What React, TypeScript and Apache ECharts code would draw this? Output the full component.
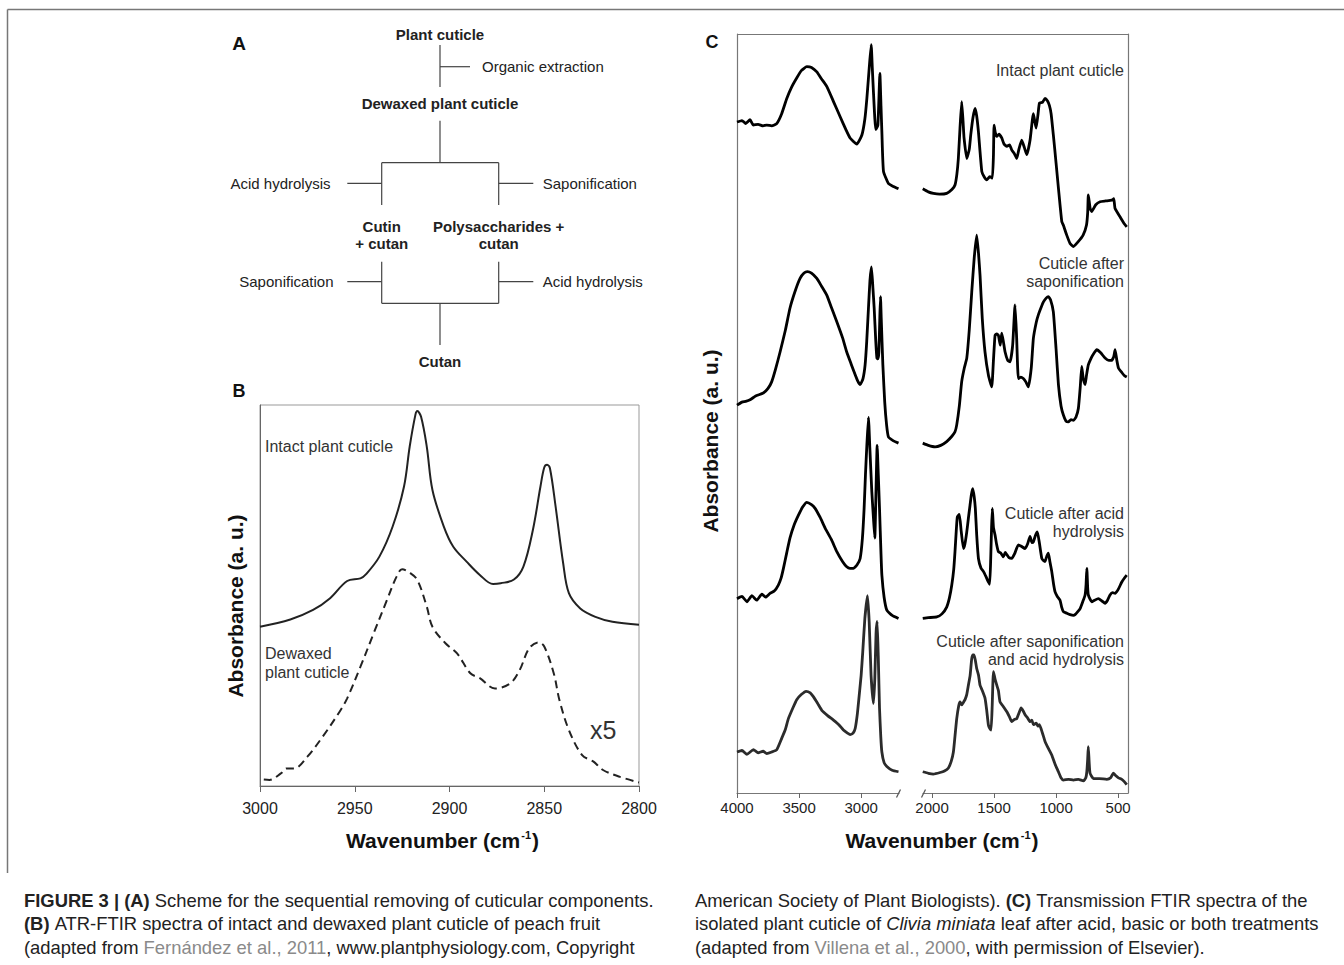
import React, { useEffect, useRef } from 'react';
import * as echarts from 'echarts';

const FONT = '"Liberation Sans", Arial, Helvetica, sans-serif';

// ---------- Panel B data (wavenumber, absorbance a.u.) ----------
const bTicks = [3000, 2950, 2900, 2850, 2800];
const bIntact = [
  [3000, 41.8], [2984, 43.7], [2972, 46.2], [2963, 49.3], [2954, 53.8], [2947, 54.5], [2944, 55.6],
  [2937, 60.2], [2930, 68.1], [2924, 78.6], [2921, 89.1], [2918, 97.4], [2917, 98.4], [2915, 96.9],
  [2912, 89.1], [2909, 77.7], [2903, 68.1], [2898, 62.8], [2891, 58.9], [2884, 55.4], [2877, 53.0],
  [2873, 53.2], [2866, 54.2], [2861, 57.6], [2856, 67.2], [2852, 78.6], [2850, 83.6], [2848.5, 84.3],
  [2847, 83.4], [2844, 73.3], [2840, 58.4], [2837, 50.6], [2831, 46.6], [2823, 44.4], [2814, 43.1],
  [2800, 42.3],
];
const bDewaxed = [
  [2998, 1.7], [2995, 1.6], [2989, 3.3], [2986, 4.6], [2982, 4.6], [2975, 7.7], [2967, 12.9],
  [2958, 19.5], [2954, 23.0], [2947, 31.3], [2940, 40.1], [2933, 48.8], [2928, 54.9], [2925, 56.9],
  [2921, 56.0], [2917, 54.1], [2912, 47.1], [2909, 41.8], [2902, 37.4], [2896, 34.8], [2889, 29.6],
  [2884, 28.3], [2876, 25.6], [2868, 26.9], [2863, 30.4], [2858, 36.1], [2853, 37.7], [2850, 36.6],
  [2845, 29.6], [2842, 22.6], [2837, 14.7], [2830, 8.1], [2824, 6.4], [2819, 4.2], [2810, 2.4],
  [2800, 0.9],
];

// ---------- Panel C data (wavenumber, absorbance a.u., stacked offsets as drawn) ----------
const cHighTicks = [4000, 3500, 3000];
const cLowTicks = [2000, 1500, 1000, 500];

const cIntactHigh = [
  [4000, 88.4], [3960, 88.6], [3930, 88.2], [3895, 88.7], [3868, 88.0], [3830, 88.1], [3790, 87.9],
  [3761, 88.0], [3720, 87.9], [3680, 88.2], [3640, 89.5], [3599, 91.5], [3560, 93.0], [3519, 94.2],
  [3480, 95.2], [3438, 95.7], [3400, 95.6], [3357, 95.0], [3320, 94.1], [3277, 93.1], [3220, 91.0],
  [3169, 89.1], [3120, 87.3], [3089, 86.3], [3035, 85.5], [2994, 86.7], [2970, 88.8], [2954, 91.5],
  [2935, 95.5], [2919, 98.6], [2910, 95.5], [2901, 92.4], [2882, 87.4], [2865, 88.0], [2849, 94.8],
  [2840, 90.5], [2833, 87.1], [2820, 81.9], [2780, 80.3], [2740, 79.9], [2699, 79.6],
];
const cIntactLow = [
  [2075, 79.6], [2030, 79.2], [1989, 79.0], [1940, 78.9], [1882, 79.0], [1840, 79.5], [1815, 80.1],
  [1800, 81.5], [1788, 83.6], [1775, 87.5], [1761, 91.1], [1750, 88.5], [1742, 86.3], [1720, 83.6],
  [1700, 84.8], [1688, 86.7], [1670, 89.0], [1653, 90.2], [1640, 89.2], [1626, 87.1], [1599, 81.9],
  [1580, 81.2], [1559, 80.8], [1535, 81.2], [1514, 81.0], [1505, 84.0], [1500, 88.0], [1490, 87.0],
  [1478, 86.5], [1460, 86.8], [1438, 86.3], [1420, 85.5], [1397, 85.2], [1375, 85.4], [1357, 84.7],
  [1335, 84.2], [1317, 83.6], [1300, 84.8], [1277, 86.0], [1255, 85.0], [1236, 84.1], [1210, 86.0],
  [1183, 89.5], [1161, 87.6], [1145, 89.5], [1134, 90.9], [1110, 91.0], [1089, 91.5], [1070, 91.2],
  [1054, 90.6], [1040, 89.5], [1022, 86.7], [1000, 83.0], [981, 79.7], [954, 75.3], [941, 74.8],
  [914, 73.5], [887, 72.4], [860, 72.0], [823, 72.6], [782, 73.5], [755, 74.8], [745, 76.5],
  [740, 78.8], [725, 77.0], [713, 76.6], [680, 77.5], [645, 77.9], [600, 78.0], [551, 78.1],
  [535, 78.3], [524, 77.0], [480, 75.8], [450, 75.0], [430, 74.6],
];

const cSapHigh = [
  [4000, 51.1], [3960, 51.5], [3930, 51.6], [3895, 51.8], [3850, 52.3], [3788, 52.7], [3750, 53.3],
  [3720, 54.2], [3690, 55.8], [3653, 58.1], [3610, 61.0], [3573, 63.9], [3530, 66.2], [3492, 67.8],
  [3460, 68.5], [3433, 68.7], [3400, 68.5], [3357, 67.8], [3320, 66.8], [3277, 65.6], [3240, 64.0],
  [3196, 62.1], [3150, 60.0], [3116, 58.1], [3080, 56.5], [3048, 55.1], [3025, 54.2], [3008, 53.8],
  [2985, 54.6], [2968, 56.4], [2955, 59.5], [2941, 63.9], [2929, 67.5], [2917, 69.3], [2905, 66.5],
  [2895, 63.9], [2882, 59.5], [2873, 57.3], [2865, 57.2], [2857, 58.1], [2849, 63.0], [2844, 65.4],
  [2838, 62.5], [2825, 56.4], [2810, 51.5], [2795, 48.5], [2780, 46.9], [2740, 46.4], [2699, 46.1],
];
const cSapLow = [
  [2075, 46.1], [2030, 45.8], [1976, 45.6], [1930, 45.8], [1882, 46.3], [1840, 47.0], [1815, 47.6],
  [1801, 48.5], [1780, 51.0], [1761, 54.2], [1740, 56.0], [1720, 57.3], [1700, 61.0], [1680, 66.0],
  [1660, 70.5], [1640, 73.5], [1625, 71.0], [1613, 68.2], [1595, 62.5], [1573, 58.1], [1545, 55.0],
  [1519, 53.5], [1505, 57.0], [1492, 60.3], [1478, 60.5], [1465, 60.3], [1450, 59.0], [1438, 60.6],
  [1425, 59.5], [1411, 58.1], [1390, 57.0], [1371, 56.8], [1350, 59.0], [1331, 64.3], [1318, 60.0],
  [1304, 54.6], [1285, 54.8], [1264, 54.6], [1245, 54.2], [1223, 53.5], [1200, 56.0], [1183, 59.9],
  [1160, 62.0], [1143, 63.0], [1120, 64.0], [1102, 64.7], [1080, 65.2], [1062, 65.4], [1045, 65.0],
  [1022, 63.4], [1000, 58.5], [981, 53.8], [960, 51.0], [941, 49.8], [920, 49.0], [901, 48.9],
  [880, 49.2], [860, 49.1], [840, 49.5], [820, 50.7], [805, 53.5], [793, 56.2], [780, 54.5],
  [766, 53.8], [755, 55.0], [740, 56.4], [720, 57.2], [700, 57.8], [672, 58.4], [640, 58.0],
  [605, 57.3], [575, 57.0], [551, 57.0], [535, 57.5], [524, 58.4], [510, 57.0], [497, 56.0],
  [470, 55.4], [450, 55.0], [430, 54.8],
];

const cAcidHigh = [
  [4000, 25.6], [3960, 25.9], [3920, 25.2], [3880, 26.0], [3841, 25.4], [3800, 26.2], [3770, 25.8],
  [3734, 26.3], [3700, 26.6], [3667, 27.4], [3645, 28.3], [3626, 29.6], [3600, 31.6], [3573, 33.6],
  [3540, 35.3], [3505, 36.6], [3470, 37.7], [3438, 38.3], [3400, 38.0], [3371, 37.5], [3330, 36.3],
  [3290, 34.9], [3240, 33.4], [3196, 31.8], [3150, 30.5], [3116, 29.8], [3090, 29.6], [3062, 29.6],
  [3035, 30.0], [3008, 30.9], [2990, 33.5], [2976, 37.5], [2965, 42.0], [2954, 45.8], [2941, 49.5],
  [2930, 45.5], [2914, 39.7], [2900, 36.0], [2890, 33.6], [2880, 40.0], [2871, 45.8], [2862, 42.0],
  [2852, 37.5], [2840, 31.5], [2833, 28.7], [2815, 25.8], [2793, 24.1], [2750, 23.4], [2699, 23.0],
];
const cAcidLow = [
  [2075, 23.0], [2030, 23.1], [1962, 23.2], [1920, 23.6], [1882, 24.5], [1860, 25.7], [1841, 27.4],
  [1825, 29.5], [1815, 31.8], [1805, 34.5], [1796, 36.4], [1780, 36.7], [1765, 34.5], [1747, 32.2],
  [1735, 32.8], [1720, 34.4], [1707, 36.2], [1694, 37.9], [1683, 39.3], [1672, 40.1], [1660, 39.0],
  [1651, 37.5], [1640, 34.0], [1626, 30.9], [1605, 29.6], [1586, 29.2], [1565, 28.5], [1546, 27.8],
  [1535, 27.5], [1527, 30.9], [1520, 35.0], [1514, 37.5], [1505, 35.0], [1492, 34.0], [1480, 32.8],
  [1465, 31.8], [1445, 31.6], [1425, 31.1], [1410, 31.7], [1397, 31.4], [1380, 31.0], [1357, 30.9],
  [1335, 31.5], [1304, 32.7], [1280, 32.5], [1250, 32.2], [1230, 32.8], [1210, 33.8], [1195, 33.0],
  [1183, 33.1], [1165, 34.0], [1151, 34.4], [1135, 33.0], [1115, 30.9], [1100, 30.6], [1089, 30.5],
  [1075, 31.2], [1062, 31.6], [1050, 30.5], [1035, 29.2], [1020, 27.5], [1008, 26.5], [990, 25.9],
  [968, 25.4], [955, 24.5], [941, 23.9], [915, 23.7], [887, 23.5], [860, 23.4], [847, 23.5],
  [825, 23.9], [806, 24.3], [785, 25.2], [766, 26.1], [758, 27.5], [752, 29.6], [745, 27.0],
  [740, 26.1], [725, 25.5], [713, 25.2], [690, 25.4], [659, 25.6], [630, 25.3], [605, 25.0],
  [585, 25.4], [565, 26.1], [545, 26.4], [524, 26.3], [500, 26.8], [470, 27.8], [450, 28.3],
  [430, 28.7],
];

const cBothHigh = [
  [4000, 5.4], [3960, 5.6], [3920, 5.1], [3868, 5.7], [3830, 5.3], [3790, 5.5], [3761, 5.2],
  [3720, 5.4], [3680, 5.7], [3640, 7.2], [3610, 8.4], [3586, 9.8], [3550, 11.2], [3519, 12.3],
  [3480, 13.0], [3444, 13.4], [3410, 13.2], [3385, 12.7], [3350, 11.8], [3317, 10.9], [3270, 10.2],
  [3223, 9.6], [3180, 9.0], [3143, 8.3], [3110, 7.9], [3089, 7.7], [3065, 7.9], [3048, 8.5],
  [3030, 10.5], [3013, 13.3], [3000, 15.5], [2987, 18.6], [2970, 23.0], [2949, 26.0], [2935, 22.5],
  [2920, 15.5], [2901, 11.8], [2890, 15.0], [2880, 21.0], [2871, 22.6], [2862, 18.0], [2852, 11.2],
  [2842, 7.5], [2833, 5.4], [2815, 4.0], [2793, 3.5], [2750, 3.0], [2699, 2.8],
];
const cBothLow = [
  [2075, 2.8], [2030, 2.6], [1990, 2.5], [1935, 2.7], [1900, 2.9], [1868, 3.3], [1845, 4.2],
  [1828, 5.4], [1815, 7.5], [1801, 9.8], [1785, 11.5], [1774, 12.0], [1761, 11.6], [1745, 12.0],
  [1734, 12.3], [1720, 13.0], [1707, 14.2], [1693, 15.5], [1680, 17.7], [1670, 18.2], [1661, 18.2],
  [1650, 17.4], [1640, 16.4], [1625, 15.5], [1613, 14.2], [1595, 13.5], [1573, 12.5], [1560, 11.0],
  [1546, 9.0], [1535, 8.5], [1524, 8.3], [1515, 11.5], [1505, 16.0], [1492, 15.0], [1478, 14.2],
  [1465, 13.5], [1452, 12.0], [1430, 11.5], [1397, 10.7], [1375, 10.0], [1357, 9.4], [1335, 9.7],
  [1317, 9.8], [1300, 10.5], [1282, 11.2], [1265, 10.8], [1250, 10.3], [1230, 9.9], [1210, 9.4],
  [1195, 9.6], [1183, 9.0], [1160, 9.2], [1145, 8.8], [1134, 9.0], [1110, 7.9], [1089, 6.8],
  [1060, 5.8], [1035, 5.0], [1008, 3.8], [981, 2.8], [960, 2.0], [941, 1.7], [900, 1.8],
  [860, 1.7], [820, 1.8], [780, 1.6], [760, 2.0], [752, 2.8], [745, 4.5], [740, 6.1],
  [733, 4.0], [726, 2.6], [699, 1.9], [650, 1.9], [591, 1.8], [560, 2.0], [538, 2.6],
  [520, 2.3], [497, 2.0], [470, 1.8], [450, 1.5], [430, 1.1],
];

// ---------- Caption ----------
const captionLeft = [
  '{b|FIGURE 3 | (A) }{n|Scheme for the sequential removing of cuticular components.}',
  '{b|(B) }{n|ATR-FTIR spectra of intact and dewaxed plant cuticle of peach fruit}',
  '{n|(adapted from }{g|Fernández et al., 2011}{n|, www.plantphysiology.com, Copyright}',
];
const captionRight = [
  '{n|American Society of Plant Biologists). }{b|(C) }{n|Transmission FTIR spectra of the}',
  '{n|isolated plant cuticle of }{i|Clivia miniata}{n| leaf after acid, basic or both treatments}',
  '{n|(adapted from }{g|Villena et al., 2000}{n|, with permission of Elsevier).}',
];

type TOpts = {
  size?: number; weight?: string; fill?: string; align?: string; valign?: string; rotation?: number; rich?: any;
};

function txt(text: string, x: number, y: number, o: TOpts = {}) {
  const align = o.align || 'left';
  const valign = o.valign || 'middle';
  return {
    type: 'text',
    x,
    y,
    rotation: o.rotation || 0,
    silent: true,
    z: 10,
    style: {
      text,
      fontFamily: FONT,
      fontSize: o.size || 15,
      fontWeight: o.weight || 'normal',
      fill: o.fill || '#222',
      align,
      verticalAlign: valign,
      textAlign: align,
      textVerticalAlign: valign,
      rich: o.rich,
    },
  };
}

function ln(x1: number, y1: number, x2: number, y2: number, stroke = '#444', w = 1.2) {
  return { type: 'line', silent: true, z: 10, shape: { x1, y1, x2, y2 }, style: { stroke, lineWidth: w } };
}

function captionRich(size: number) {
  const base = { fontFamily: FONT, fontSize: size, fill: '#222', color: '#222' };
  return {
    n: { ...base },
    b: { ...base, fontWeight: 'bold' },
    g: { ...base, fill: '#8a8a8a', color: '#8a8a8a' },
    i: { ...base, fontStyle: 'italic' },
  };
}

function axisTitleRich(size: number) {
  return {
    a: { fontFamily: FONT, fontSize: size, fontWeight: 'bold', fill: '#111', color: '#111' },
    s: { fontFamily: FONT, fontSize: 11, fontWeight: 'bold', fill: '#111', color: '#111', verticalAlign: 'top', padding: [0, 1, 0, 1] },
  };
}

const plain = (v: number) => String(Math.round(v));

export default function App() {
  const ref = useRef<HTMLDivElement>(null);

  useEffect(() => {
    if (!ref.current) return;
    const chart = echarts.init(ref.current, undefined, { renderer: 'svg' });

    const graphic: any[] = [];
    // Figure frame
    graphic.push(ln(7.5, 9.5, 1344, 9.5, '#777', 1.5));
    graphic.push(ln(7.5, 9.5, 7.5, 873, '#777', 1.5));

    // Panel labels
    graphic.push(txt('A', 239, 43, { size: 19, weight: 'bold', align: 'center', fill: '#111' }));
    graphic.push(txt('B', 239, 391, { size: 18, weight: 'bold', align: 'center', fill: '#111' }));
    graphic.push(txt('C', 712, 42, { size: 18, weight: 'bold', align: 'center', fill: '#111' }));

    // Panel A scheme
    const bold = { size: 15, weight: 'bold', align: 'center', fill: '#222' };
    graphic.push(txt('Plant cuticle', 440, 34, bold));
    graphic.push(ln(440, 45, 440, 87));
    graphic.push(ln(440, 66.7, 470, 66.7));
    graphic.push(txt('Organic extraction', 482, 66.7, { size: 15 }));
    graphic.push(txt('Dewaxed plant cuticle', 440, 103.5, bold));
    graphic.push(ln(440, 120.7, 440, 162.7));
    graphic.push(ln(381.7, 162.7, 498.7, 162.7));
    graphic.push(ln(381.7, 162.7, 381.7, 205));
    graphic.push(ln(498.7, 162.7, 498.7, 205));
    graphic.push(ln(347.3, 183.3, 381.7, 183.3));
    graphic.push(ln(498.7, 183.3, 533.3, 183.3));
    graphic.push(txt('Acid hydrolysis', 330.5, 183.3, { size: 15, align: 'right' }));
    graphic.push(txt('Saponification', 542.7, 183.3, { size: 15 }));
    graphic.push(txt('Cutin', 381.7, 226.7, bold));
    graphic.push(txt('+ cutan', 381.7, 243.3, bold));
    graphic.push(txt('Polysaccharides +', 498.7, 226.7, bold));
    graphic.push(txt('cutan', 498.7, 243.3, bold));
    graphic.push(ln(381.7, 261.7, 381.7, 303.3));
    graphic.push(ln(498.7, 261.7, 498.7, 303.3));
    graphic.push(ln(381.7, 303.3, 498.7, 303.3));
    graphic.push(ln(347.3, 281.7, 381.7, 281.7));
    graphic.push(ln(498.7, 281.7, 533.3, 281.7));
    graphic.push(txt('Saponification', 333.5, 281.7, { size: 15, align: 'right' }));
    graphic.push(txt('Acid hydrolysis', 542.7, 281.7, { size: 15 }));
    graphic.push(ln(440, 303.3, 440, 345));
    graphic.push(txt('Cutan', 440, 361, bold));

    // Panel B annotations
    graphic.push(txt('Intact plant cuticle', 265, 446, { size: 16, fill: '#333' }));
    graphic.push(txt('Dewaxed', 265, 653, { size: 16, fill: '#333' }));
    graphic.push(txt('plant cuticle', 265, 672, { size: 16, fill: '#333' }));
    graphic.push(txt('x5', 590, 730, { size: 25, fill: '#333' }));
    graphic.push(txt('{a|Wavenumber (cm}{s|-1}{a|)}', 442.5, 840, { align: 'center', rich: axisTitleRich(21) }));
    graphic.push(txt('Absorbance (a. u.)', 235, 606, { size: 21, weight: 'bold', align: 'center', fill: '#111', rotation: Math.PI / 2 }));

    // Panel C frame pieces and annotations
    graphic.push(ln(737, 34.5, 1128.5, 34.5, '#777', 1.2));
    graphic.push(ln(896.5, 797.5, 900.5, 789.5, '#555', 1.2));
    graphic.push(ln(921.5, 797.5, 925.5, 789.5, '#555', 1.2));
    const cl = { size: 16, fill: '#333', align: 'right' };
    graphic.push(txt('Intact plant cuticle', 1124, 70.7, cl));
    graphic.push(txt('Cuticle after', 1124, 263.3, cl));
    graphic.push(txt('saponification', 1124, 281.7, cl));
    graphic.push(txt('Cuticle after acid', 1124, 513.3, cl));
    graphic.push(txt('hydrolysis', 1124, 531.7, cl));
    graphic.push(txt('Cuticle after saponification', 1124, 641, cl));
    graphic.push(txt('and acid hydrolysis', 1124, 659, cl));
    graphic.push(txt('{a|Wavenumber (cm}{s|-1}{a|)}', 942, 840, { align: 'center', rich: axisTitleRich(21) }));
    graphic.push(txt('Absorbance (a. u.)', 710, 441, { size: 21, weight: 'bold', align: 'center', fill: '#111', rotation: Math.PI / 2 }));

    // Caption
    const capY = [900, 923.5, 947];
    const capSize = 18.4;
    captionLeft.forEach((t, i) => graphic.push(txt(t, 24, capY[i], { size: capSize, rich: captionRich(capSize) })));
    captionRight.forEach((t, i) => graphic.push(txt(t, 695, capY[i], { size: capSize, rich: captionRich(capSize) })));

    const axisLineB = { show: true, lineStyle: { color: '#666', width: 1 } };
    const axisLineC = { show: true, lineStyle: { color: '#777', width: 1.2 } };
    const hiddenY = (gridIndex: number, line: any, position?: string) => ({
      type: 'value', gridIndex, min: 0, max: 100, position,
      axisLine: line, axisTick: { show: false }, axisLabel: { show: false }, splitLine: { show: false },
    });

    const cSeries = (data: number[][], xi: number, color: string) => ({
      type: 'line', xAxisIndex: xi, yAxisIndex: xi, data, showSymbol: false, symbol: 'none', silent: true,
      smooth: 0.15, lineStyle: { color, width: 2.8, join: 'round' }, z: 3,
    });

    const option: any = {
      animation: false,
      backgroundColor: '#fff',
      grid: [
        { left: 260, top: 405, width: 379, height: 381, show: true, borderColor: '#999', borderWidth: 1, backgroundColor: 'transparent' },
        { left: 737, top: 34, width: 162, height: 759 },
        { left: 923, top: 34, width: 205, height: 759 },
      ],
      xAxis: [
        {
          type: 'value', gridIndex: 0, min: 2800, max: 3000, interval: 50, inverse: true,
          axisLine: axisLineB,
          axisTick: { show: true, inside: false, length: 6, lineStyle: { color: '#666' } },
          axisLabel: { fontSize: 16, color: '#222', margin: 14, fontFamily: FONT, customValues: bTicks, formatter: plain },
          splitLine: { show: false },
        },
        {
          type: 'value', gridIndex: 1, min: 2695, max: 4000, inverse: true,
          axisLine: axisLineC,
          axisTick: { show: true, inside: false, length: 5, customValues: cHighTicks, lineStyle: { color: '#666' } },
          axisLabel: { fontSize: 15, color: '#222', margin: 7, fontFamily: FONT, customValues: cHighTicks, formatter: plain },
          splitLine: { show: false },
        },
        {
          type: 'value', gridIndex: 2, min: 420, max: 2073, inverse: true,
          axisLine: axisLineC,
          axisTick: { show: true, inside: false, length: 5, customValues: cLowTicks, lineStyle: { color: '#666' } },
          axisLabel: { fontSize: 15, color: '#222', margin: 7, fontFamily: FONT, customValues: cLowTicks, formatter: plain },
          splitLine: { show: false },
        },
      ],
      yAxis: [hiddenY(0, axisLineB), hiddenY(1, axisLineC, 'left'), hiddenY(2, axisLineC, 'right')],
      series: [
        {
          type: 'line', xAxisIndex: 0, yAxisIndex: 0, data: bIntact, showSymbol: false, symbol: 'none', silent: true,
          smooth: 0.35, lineStyle: { color: '#222', width: 2 },
        },
        {
          type: 'line', xAxisIndex: 0, yAxisIndex: 0, data: bDewaxed, showSymbol: false, symbol: 'none', silent: true,
          smooth: 0.35, lineStyle: { color: '#222', width: 2, type: [8, 5] },
        },
        cSeries(cIntactHigh, 1, '#000'),
        cSeries(cIntactLow, 2, '#000'),
        cSeries(cSapHigh, 1, '#000'),
        cSeries(cSapLow, 2, '#000'),
        cSeries(cAcidHigh, 1, '#000'),
        cSeries(cAcidLow, 2, '#000'),
        cSeries(cBothHigh, 1, '#2b2b2b'),
        cSeries(cBothLow, 2, '#2b2b2b'),
      ],
      graphic: { elements: graphic },
    };

    chart.setOption(option);
    return () => chart.dispose();
  }, []);

  return (
    <div
      ref={ref}
      style={{ position: 'absolute', left: 0, top: 0, width: 1344, height: 965, background: '#fff' }}
    />
  );
}
